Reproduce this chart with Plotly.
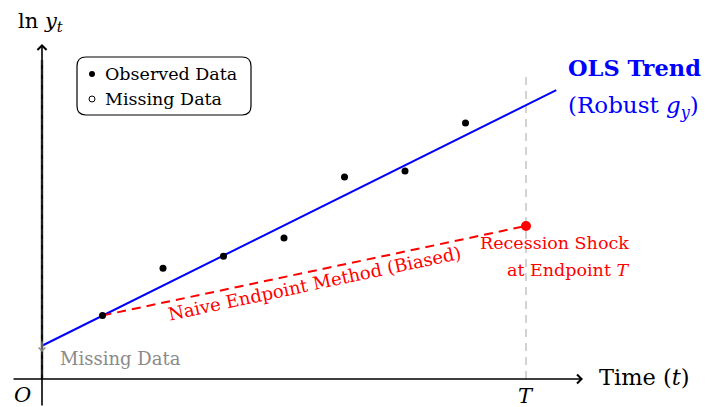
import plotly.graph_objects as go

# ---------------- data ----------------
t_obs = [1, 2, 3, 4, 5, 6, 7]
y_obs = [1.05, 1.83, 2.03, 2.33, 3.34, 3.44, 4.23]
T_end = 8
y_T = 2.53
ols_intercept = 0.55
ols_slope = 0.497
t_ols = [0, 8.5]
y_ols = [ols_intercept + ols_slope * t for t in t_ols]
t_naive = [t_obs[0], T_end]
y_naive = [y_obs[0], y_T]

# ---------------- layout helpers ----------------
OFF = 8                       # page body margin
W, H = 714 - OFF, 407 - OFF   # figure size
S = 60.5                      # pixels per unit
OX, OY = 42, 379              # reference pixel position of origin


def dx(px):
    return (px - OX) / S


def dy(py):
    return (OY - py) / S


def fx(px):
    return (px - OFF) / W


def fy(py):
    return 1 - (py - OFF) / H


SERIF = "DejaVu Serif"
BLUE = "#0000FF"
RED = "#FF0000"
GRAY = "#8a8a8a"
SMALL = 17.5
BIG = 22.5

fig = go.Figure()

# gray dashed at T
fig.add_shape(type="line", x0=T_end, x1=T_end, y0=dy(379), y1=dy(75),
              line=dict(color="#c8c8c8", width=1.6, dash="8px,6px"), layer="below")

# legend box (rounded rectangle)
lx0, lx1, ly0, ly1, r = 77, 251, 57, 115, 9
path = (f"M {dx(lx0 + r)},{dy(ly0)} L {dx(lx1 - r)},{dy(ly0)} "
        f"Q {dx(lx1)},{dy(ly0)} {dx(lx1)},{dy(ly0 + r)} "
        f"L {dx(lx1)},{dy(ly1 - r)} Q {dx(lx1)},{dy(ly1)} {dx(lx1 - r)},{dy(ly1)} "
        f"L {dx(lx0 + r)},{dy(ly1)} Q {dx(lx0)},{dy(ly1)} {dx(lx0)},{dy(ly1 - r)} "
        f"L {dx(lx0)},{dy(ly0 + r)} Q {dx(lx0)},{dy(ly0)} {dx(lx0 + r)},{dy(ly0)} Z")
fig.add_shape(type="path", path=path, line=dict(color="black", width=1.2),
              fillcolor="white", layer="below")

# OLS trend
fig.add_trace(go.Scatter(x=t_ols, y=y_ols, mode="lines",
                         line=dict(color=BLUE, width=2), hoverinfo="skip"))
# naive endpoint line
fig.add_trace(go.Scatter(x=t_naive, y=y_naive, mode="lines",
                         line=dict(color=RED, width=2, dash="9px,6px"), hoverinfo="skip"))
# observed data
fig.add_trace(go.Scatter(x=t_obs, y=y_obs, mode="markers",
                         marker=dict(color="black", size=7), hoverinfo="skip"))
# recession shock endpoint
fig.add_trace(go.Scatter(x=[T_end], y=[y_T], mode="markers",
                         marker=dict(color=RED, size=10), hoverinfo="skip"))
# legend symbols
fig.add_trace(go.Scatter(x=[dx(92)], y=[dy(74)], mode="markers",
                         marker=dict(color="black", size=6), hoverinfo="skip"))
fig.add_trace(go.Scatter(x=[dx(92)], y=[dy(99)], mode="markers",
                         marker=dict(color="white", size=6, line=dict(color="black", width=1)),
                         hoverinfo="skip"))

# axes arrows
fig.add_annotation(x=dx(583), y=0, ax=dx(12), ay=0, xref="x", yref="y", axref="x", ayref="y",
                   text="", showarrow=True, arrowhead=4, arrowsize=1.1, arrowwidth=1.6,
                   arrowcolor="black")
fig.add_annotation(x=0, y=dy(44), ax=0, ay=dy(407), xref="x", yref="y", axref="x", ayref="y",
                   text="", showarrow=True, arrowhead=4, arrowsize=1.1, arrowwidth=1.6,
                   arrowcolor="black")
# gray missing-data overlay on the y-axis, with black dashes on top
fig.add_shape(type="line", x0=0, x1=0, y0=dy(379), y1=dy(60),
              line=dict(color="#9a9a9a", width=2.8))
fig.add_shape(type="line", x0=0, x1=0, y0=dy(379), y1=dy(60),
              line=dict(color="black", width=1.3, dash="4px,6px"))
# small gray missing-data marker at the trend intercept
fig.add_annotation(x=0, y=dy(352), ax=0, ay=dy(340), xref="x", yref="y", axref="x", ayref="y",
                   text="", showarrow=True, arrowhead=4, arrowsize=1, arrowwidth=1.3,
                   arrowcolor=GRAY)


def txt(text, px, py, size, color="black", xanchor="center", angle=0):
    fig.add_annotation(x=fx(px), y=fy(py), xref="paper", yref="paper", text=text,
                       showarrow=False, xanchor=xanchor, yanchor="middle", textangle=angle,
                       font=dict(family=SERIF, size=size, color=color))


txt("Observed Data", 103, 74, SMALL, xanchor="left")
txt("Missing Data", 103, 99, SMALL, xanchor="left")
txt("ln <i>y</i><sub><i>t</i></sub>", 40, 22, 21)
txt("Time (<i>t</i>)", 597, 377, BIG, xanchor="left")
txt("<i>O</i>", 22, 395, 21)
txt("<i>T</i>", 526, 396, 21)
txt("<b>OLS Trend</b>", 566, 68, 22.5, color=BLUE, xanchor="left")
txt("(Robust <i>g</i><sub><i>y</i></sub>)", 566, 107, 23, color=BLUE, xanchor="left")
txt("Recession Shock", 631, 243, SMALL, color=RED, xanchor="right")
txt("at Endpoint <i>T</i>", 631, 270, SMALL, color=RED, xanchor="right")
txt("Missing Data", 58, 358, 18, color=GRAY, xanchor="left")
txt("Naive Endpoint Method (Biased)", 314, 283, 18, color=RED, angle=-12)

fig.update_layout(
    width=W, height=H, autosize=False,
    margin=dict(l=0, r=0, t=0, b=0),
    paper_bgcolor="white", plot_bgcolor="white",
    showlegend=False,
    xaxis=dict(range=[dx(OFF), dx(OFF + W)], visible=False, fixedrange=True),
    yaxis=dict(range=[dy(OFF + H), dy(OFF)], visible=False, fixedrange=True),
)

fig.write_html("out.html")
